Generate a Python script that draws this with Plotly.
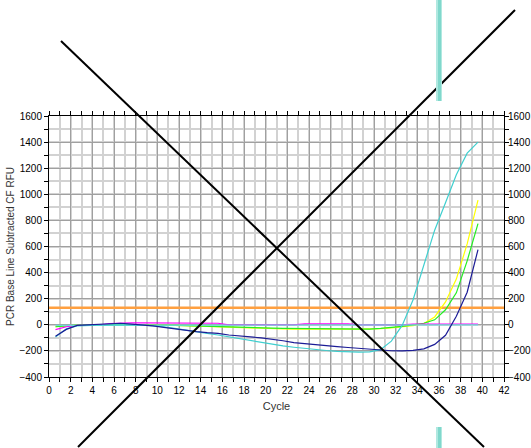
import plotly.graph_objects as go

# ---------------- data ----------------
cycles = [0.6, 1.6, 2.6, 3.6, 4.6, 5.6, 6.6, 7.6, 8.6, 9.6,
          10.6, 11.6, 12.6, 13.6, 14.6, 15.6, 16.6, 17.6, 18.6, 19.6,
          20.6, 21.6, 22.6, 23.6, 24.6, 25.6, 26.6, 27.6, 28.6, 29.6,
          30.6, 31.6, 32.6, 33.6, 34.6, 35.6, 36.6, 37.6, 38.6, 39.6]

cyan_rfu = [-93, -30, -8, -3, -2, 0, 2, 0, -2, -6,
            -15, -28, -42, -55, -66, -78, -92, -108, -122, -136,
            -150, -162, -172, -182, -190, -197, -203, -207, -210, -208,
            -190, -125, -5, 190, 450, 725, 935, 1150, 1315, 1400]

navy_rfu = [-88, -35, -5, 0, 2, 5, 12, 5, 0, -8,
            -20, -32, -44, -52, -60, -66, -78, -88, -93, -100,
            -110, -122, -136, -145, -152, -160, -167, -174, -181, -188,
            -195, -199, -200, -196, -184, -150, -80, 65, 250, 576]

green_rfu = [-15, -8, -3, 0, 0, 0, 0, 0, 0, 0,
             -2, -4, -6, -9, -12, -15, -17, -19, -22, -25,
             -26, -27, -28, -29, -30, -31, -33, -34, -34, -33,
             -28, -22, -12, 0, 12, 38, 115, 245, 490, 775]

yellow_rfu = [-15, -8, -3, 0, 0, 0, 0, 0, 0, 0,
              -2, -4, -6, -9, -12, -15, -17, -19, -27, -30,
              -31, -32, -33, -34, -35, -34, -33, -33, -33, -32,
              -29, -23, -15, -6, 10, 60, 175, 350, 620, 955]

magenta_rfu = [-37, -15, -5, -4, -2, 10, 14, 14, 14, 14,
               14, 14, 14, 14, 14, 12, 0, 0, 0, 0,
               0, 0, 0, 8, 8, 8, 8, 8, 0, 0,
               0, 0, 0, 6, 6, 6, 6, 6, 6, 6]

lightcyan_rfu = [-4, -4, -3, -3, -3, -3, -3, -3, -3, -3,
                 -3, -3, -2, -2, -1, 0, 0, 0, 0, 0,
                 0, 0, 0, 0, 0, 0, 0, 0, 0, 0,
                 0, 0, 0, 0, 0, 0, 0, 0, 0, 0]

threshold_x = [0, 42]
threshold_y = [130, 130]

x_ticks = list(range(0, 43, 2))
y_ticks = list(range(-400, 1601, 200))

# ---------------- figure ----------------
fig = go.Figure()

fig.add_trace(go.Scatter(x=threshold_x, y=threshold_y, mode="lines",
                         line=dict(color="#ffa040", width=2.5), hoverinfo="skip"))

series = [
    (yellow_rfu, "#ffff00"),
    (green_rfu, "#22ee22"),
    (magenta_rfu, "#ff00ff"),
    (lightcyan_rfu, "#6edcdc"),
    (cyan_rfu, "#3fcfcf"),
    (navy_rfu, "#1c1c96"),
]
for vals, col in series:
    fig.add_trace(go.Scatter(x=cycles, y=vals, mode="lines",
                             line=dict(color=col, width=1.2), hoverinfo="skip"))

# invisible trace so the mirrored right axis is drawn
fig.add_trace(go.Scatter(x=threshold_x, y=threshold_y, yaxis="y2", mode="lines",
                         line=dict(width=0), opacity=0, hoverinfo="skip"))

tick_font = dict(family="Liberation Sans, Arial, sans-serif", size=10, color="#000")

fig.update_layout(
    width=531, height=448,
    margin=dict(l=49, r=27, t=116, b=71, pad=0),
    paper_bgcolor="white", plot_bgcolor="white",
    showlegend=False,
    font=tick_font,
    xaxis=dict(
        range=[0, 42], tickmode="array", tickvals=x_ticks, automargin=False,
        ticks="outside", ticklen=4, tickcolor="#000", tickfont=tick_font,
        showline=True, linecolor="#000", linewidth=1, mirror="ticks",
        showgrid=True, gridcolor="#a0a0a0", gridwidth=1, zeroline=False,
        minor=dict(dtick=1, ticks="outside", ticklen=4, tickcolor="#000",
                   showgrid=True, gridcolor="#d2d2d2", gridwidth=2),
        title=dict(text="Cycle", font=dict(family="Liberation Sans, Arial, sans-serif",
                                           size=11, color="#333"), standoff=7),
    ),
    yaxis=dict(
        range=[-400, 1600], tickmode="array", tickvals=y_ticks, automargin=False,
        ticks="outside", ticklen=4, tickcolor="#000", tickfont=tick_font,
        showline=True, linecolor="#000", linewidth=1,
        showgrid=True, gridcolor="#a0a0a0", gridwidth=1, zeroline=False,
        minor=dict(dtick=100, ticks="outside", ticklen=4, tickcolor="#000",
                   showgrid=True, gridcolor="#d2d2d2", gridwidth=2),
        title=dict(text="PCR Base Line Subtracted CF RFU",
                   font=dict(family="Liberation Sans, Arial, sans-serif", size=10, color="#333"),
                   standoff=2),
    ),
    yaxis2=dict(
        range=[-400, 1600], overlaying="y", side="right", tickmode="array", tickvals=y_ticks,
        automargin=False, ticklabelstandoff=-3,
        ticks="outside", ticklen=4, tickcolor="#000", tickfont=tick_font,
        showline=True, linecolor="#000", linewidth=1, showgrid=False, zeroline=False,
        minor=dict(dtick=100, ticks="outside", ticklen=4, tickcolor="#000", showgrid=False),
    ),
)

# ---------------- decorative overlay (cross and teal bars), in pixel space ----------------
PL, PR, PT, PB = 49, 504, 116, 377


def px(xp):
    return (xp - PL) / (PR - PL)


def py(yp):
    return (PB - yp) / (PB - PT)


for (x0, y0, x1, y1) in [(61, 41, 484, 447), (78, 447, 515, 10)]:
    fig.add_shape(type="line", xref="paper", yref="paper",
                  x0=px(x0), y0=py(y0), x1=px(x1), y1=py(y1),
                  line=dict(color="#000", width=2), layer="above")

for (ya, yb) in [(0, 101), (427, 448)]:
    fig.add_shape(type="rect", xref="paper", yref="paper",
                  x0=px(436), x1=px(442), y0=py(yb), y1=py(ya),
                  fillcolor="#b0e8e0", line=dict(width=0), layer="above")
    fig.add_shape(type="rect", xref="paper", yref="paper",
                  x0=px(438), x1=px(441), y0=py(yb), y1=py(ya),
                  fillcolor="#80d8cc", line=dict(width=0), layer="above")

fig.write_html("out.html", config={"displayModeBar": False},
               post_script="document.body.style.margin='0';document.body.style.overflow='hidden';")
